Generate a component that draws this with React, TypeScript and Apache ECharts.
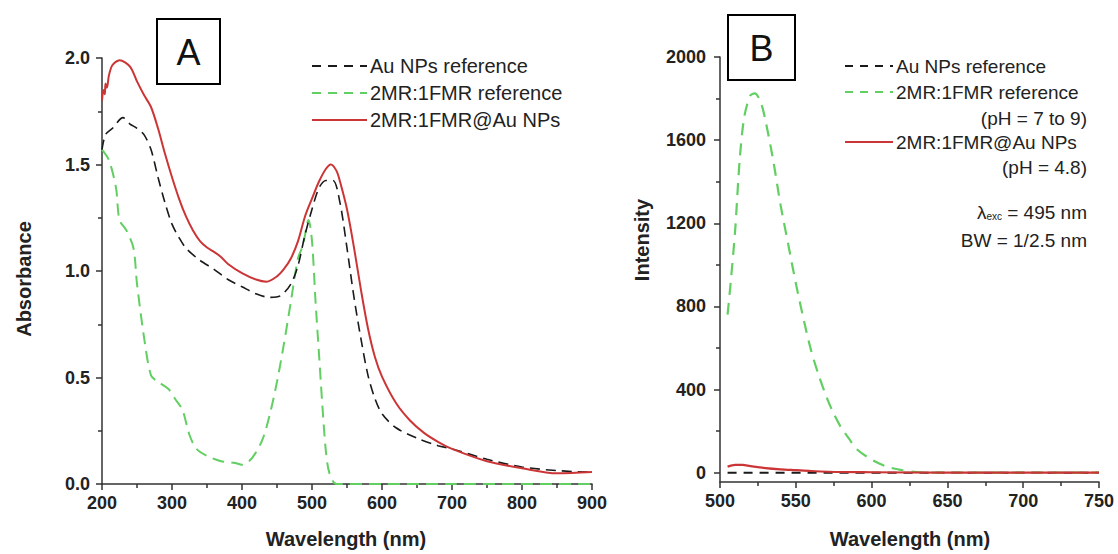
import React, { useEffect, useRef } from "react";
import * as echarts from "echarts";

// ---------- Panel A: absorbance ----------
const auNm = [200, 205, 215, 230, 240, 250, 260, 270, 280, 290, 300, 310, 320, 340, 360, 380, 400, 420, 440, 455, 470, 480, 490, 500, 510, 520, 530, 540, 550, 560, 570, 580, 590, 600, 620, 650, 680, 700, 750, 800, 850, 900];
const auAbs = [1.57, 1.64, 1.67, 1.72, 1.69, 1.67, 1.64, 1.57, 1.44, 1.32, 1.22, 1.157, 1.107, 1.05, 1.008, 0.96, 0.926, 0.893, 0.876, 0.884, 0.94, 1.025, 1.17, 1.29, 1.39, 1.425, 1.425, 1.32, 1.107, 0.876, 0.68, 0.51, 0.4, 0.33, 0.264, 0.215, 0.18, 0.165, 0.116, 0.08, 0.063, 0.055];

const fmrNm = [200, 210, 220, 225, 235, 245, 250, 260, 270, 280, 295, 305, 315, 325, 335, 350, 370, 390, 400, 410, 420, 430, 440, 450, 460, 470, 480, 487, 495, 500, 505, 510, 515, 520, 525, 535, 600, 700, 800, 900];
const fmrAbs = [1.57, 1.52, 1.39, 1.24, 1.19, 1.107, 0.94, 0.69, 0.51, 0.48, 0.446, 0.397, 0.347, 0.23, 0.165, 0.132, 0.107, 0.099, 0.09, 0.107, 0.149, 0.215, 0.33, 0.48, 0.66, 0.86, 1.06, 1.12, 1.24, 1.14, 0.86, 0.61, 0.36, 0.149, 0.05, 0.0, 0.0, 0.0, 0.0, 0.0];

const hybNm = [200, 202, 204, 205, 207, 210, 215, 225, 240, 250, 260, 270, 280, 290, 300, 310, 320, 330, 340, 350, 360, 370, 380, 400, 420, 435, 450, 460, 470, 480, 490, 500, 510, 520, 527, 535, 540, 550, 560, 570, 580, 590, 600, 620, 640, 660, 680, 700, 750, 800, 850, 900];
const hybAbs = [1.8, 1.85, 1.83, 1.88, 1.86, 1.92, 1.967, 1.99, 1.96, 1.89, 1.826, 1.77, 1.67, 1.55, 1.44, 1.34, 1.256, 1.19, 1.14, 1.11, 1.09, 1.066, 1.033, 0.99, 0.96, 0.95, 0.975, 1.01, 1.06, 1.14, 1.256, 1.34, 1.42, 1.48, 1.5, 1.47, 1.42, 1.29, 1.11, 0.91, 0.73, 0.595, 0.504, 0.38, 0.298, 0.24, 0.198, 0.165, 0.107, 0.074, 0.05, 0.056];

// ---------- Panel B: emission intensity ----------
const bAuNm = [505, 550, 600, 650, 700, 750];
const bAuInt = [0, 0, 0, 0, 0, 0];

const bFmrNm = [505, 507, 510, 513, 516, 520, 523, 527, 530, 535, 540, 545, 550, 555, 560, 565, 570, 575, 580, 585, 590, 600, 610, 620, 630, 640, 700, 750];
const bFmrInt = [760, 912, 1167, 1507, 1711, 1815, 1825, 1779, 1694, 1507, 1286, 1099, 912, 743, 590, 471, 369, 284, 216, 165, 114, 63, 29, 12, 3, 0, 0, 0];

const bHybNm = [505, 510, 515, 520, 530, 540, 550, 560, 580, 600, 650, 700, 750];
const bHybInt = [29, 37, 37, 31, 22, 16, 12, 8, 3, 2, 0, 0, 0];

const aXTicks = { min: 200, max: 900, interval: 100 };
const aYTicks = { min: 0, max: 2, interval: 0.5 };
const bXTicks = { min: 500, max: 750, interval: 50 };
const bYMajor = [0, 400, 800, 1200, 1600, 2000];
const bYMinor = [200, 600, 1000, 1400, 1800];
const bYMin = -45;

const pairs = (xs: number[], ys: number[]) => xs.map((x, i) => [x, ys[i]]);

const FONT = "'Liberation Sans', Arial, Helvetica, sans-serif";
const RED = "#cc3535";
const GREEN = "#62cf62";
const BLACK = "#1a1a1a";
const AXIS = "#333";

export default function App() {
  const ref = useRef<HTMLDivElement>(null);
  useEffect(() => {
    if (!ref.current) return;
    const chart = echarts.init(ref.current, undefined, { renderer: "svg" });
    const axisLine = { show: true, onZero: false, lineStyle: { color: AXIS, width: 1.5 } };
    const tick = { show: true, length: 6, lineStyle: { color: AXIS, width: 1.5 } };
    const minor = { show: true, splitNumber: 2, length: 4, lineStyle: { color: AXIS, width: 1.5 } };
    const label = { fontSize: 18, fontWeight: "bold", color: "#222", fontFamily: FONT };
    const legendText = (x: number, y: number, text: string, size: number, align = "left") => ({
      type: "text",
      x,
      y,
      style: { text, fontSize: size, fontFamily: FONT, fill: "#222", textAlign: align, textVerticalAlign: "middle" },
    });
    const legendLine = (x1: number, x2: number, y: number, color: string, dash: number[] | null, w: number) => ({
      type: "line",
      shape: { x1, y1: y, x2, y2: y },
      style: { stroke: color, lineWidth: w, lineDash: dash || undefined },
    });
    chart.setOption({
      animation: false,
      grid: [
        { left: 102, top: 58, width: 490, height: 426 },
        { left: 720, top: 57, width: 379, height: 425 },
      ],
      xAxis: [
        {
          gridIndex: 0, type: "value", ...aXTicks,
          axisLine, axisTick: tick, minorTick: minor, splitLine: { show: false },
          axisLabel: { ...label, margin: 10 },
        },
        {
          gridIndex: 1, type: "value", ...bXTicks,
          axisLine, axisTick: tick, minorTick: minor, splitLine: { show: false },
          axisLabel: { ...label, margin: 10 },
        },
      ],
      yAxis: [
        {
          gridIndex: 0, type: "value", ...aYTicks,
          axisLine, axisTick: tick, minorTick: minor, splitLine: { show: false },
          axisLabel: { ...label, margin: 12, formatter: (v: number) => v.toFixed(1) },
        },
        {
          gridIndex: 1, type: "value", min: bYMin, max: 2000, position: "left",
          axisLine, axisTick: { ...tick, customValues: bYMajor }, splitLine: { show: false },
          axisLabel: { ...label, margin: 14, customValues: bYMajor, formatter: (v: number) => String(Math.round(v)) },
        },
        {
          gridIndex: 1, type: "value", min: bYMin, max: 2000, position: "left", offset: 0,
          axisLine: { show: false }, axisTick: { show: true, length: 4, lineStyle: { color: AXIS, width: 1.5 }, customValues: bYMinor },
          axisLabel: { show: false }, splitLine: { show: false },
        },
      ],
      series: [
        {
          type: "line", xAxisIndex: 0, yAxisIndex: 0, data: pairs(auNm, auAbs), showSymbol: false, smooth: 0.3,
          lineStyle: { color: BLACK, width: 1.6, type: [10, 6] }, z: 3,
        },
        {
          type: "line", xAxisIndex: 0, yAxisIndex: 0, data: pairs(fmrNm, fmrAbs), showSymbol: false, smooth: 0.3,
          lineStyle: { color: GREEN, width: 2, type: [12, 7] }, z: 2,
        },
        {
          type: "line", xAxisIndex: 0, yAxisIndex: 0, data: pairs(hybNm, hybAbs), showSymbol: false, smooth: 0.3,
          lineStyle: { color: RED, width: 2 }, z: 4,
        },
        {
          type: "line", xAxisIndex: 1, yAxisIndex: 1, data: pairs(bAuNm, bAuInt), showSymbol: false,
          lineStyle: { color: BLACK, width: 2, type: [9, 7] }, z: 2,
        },
        {
          type: "line", xAxisIndex: 1, yAxisIndex: 1, data: pairs(bFmrNm, bFmrInt), showSymbol: false, smooth: 0.3,
          lineStyle: { color: GREEN, width: 2.2, type: [12, 8] }, z: 3,
        },
        {
          type: "line", xAxisIndex: 1, yAxisIndex: 1, data: pairs(bHybNm, bHybInt), showSymbol: false, smooth: 0.3,
          lineStyle: { color: RED, width: 2.2 }, z: 4,
        },
      ],
      graphic: [
        // panel labels
        { type: "rect", shape: { x: 157, y: 19, width: 63, height: 65 }, style: { fill: "#fff", stroke: "#000", lineWidth: 2 } },
        { type: "text", x: 188.5, y: 52, style: { text: "A", fontSize: 36, fontFamily: FONT, fill: "#111", textAlign: "center", textVerticalAlign: "middle" } },
        { type: "rect", shape: { x: 728, y: 15, width: 67, height: 65 }, style: { fill: "#fff", stroke: "#000", lineWidth: 2 } },
        { type: "text", x: 761.5, y: 48, style: { text: "B", fontSize: 36, fontFamily: FONT, fill: "#111", textAlign: "center", textVerticalAlign: "middle" } },
        // axis titles
        { type: "text", x: 346, y: 539, style: { text: "Wavelength (nm)", fontSize: 20, fontWeight: "bold", fontFamily: FONT, fill: "#222", textAlign: "center", textVerticalAlign: "middle" } },
        { type: "text", x: 910, y: 539, style: { text: "Wavelength (nm)", fontSize: 20, fontWeight: "bold", fontFamily: FONT, fill: "#222", textAlign: "center", textVerticalAlign: "middle" } },
        { type: "text", x: 24, y: 279, rotation: Math.PI / 2, style: { text: "Absorbance", fontSize: 20, fontWeight: "bold", fontFamily: FONT, fill: "#222", textAlign: "center", textVerticalAlign: "middle" } },
        { type: "text", x: 642, y: 240, rotation: Math.PI / 2, style: { text: "Intensity", fontSize: 20, fontWeight: "bold", fontFamily: FONT, fill: "#222", textAlign: "center", textVerticalAlign: "middle" } },
        // legend A
        legendLine(312, 367, 66, BLACK, [9, 7], 2),
        legendText(370, 66, "Au NPs reference", 20),
        legendLine(312, 367, 93, GREEN, [9, 7], 2),
        legendText(370, 93, "2MR:1FMR reference", 20),
        legendLine(312, 367, 120, RED, null, 2),
        legendText(370, 120, "2MR:1FMR@Au NPs", 20),
        // legend B
        legendLine(845, 893, 66, BLACK, [8, 7], 2),
        legendText(896, 66, "Au NPs reference", 19),
        legendLine(845, 893, 92, GREEN, [8, 7], 2),
        legendText(896, 92, "2MR:1FMR reference", 19),
        legendText(1087, 118, "(pH = 7 to 9)", 19, "right"),
        legendLine(845, 893, 142, RED, null, 2),
        legendText(896, 142, "2MR:1FMR@Au NPs", 19),
        legendText(1087, 167, "(pH = 4.8)", 19, "right"),
        {
          type: "text", x: 1087, y: 212,
          style: {
            text: "{l|λ}{s|exc}{n| = 495 nm}",
            textAlign: "right", textVerticalAlign: "middle", fill: "#222", fontFamily: FONT,
            rich: {
              l: { fontSize: 19, fontFamily: FONT, fill: "#222", verticalAlign: "bottom" },
              s: { fontSize: 10, fontFamily: FONT, fill: "#222", verticalAlign: "bottom" },
              n: { fontSize: 19, fontFamily: FONT, fill: "#222", verticalAlign: "bottom" },
            },
          },
        },
        legendText(1087, 240, "BW = 1/2.5 nm", 19, "right"),
      ],
    });
    return () => chart.dispose();
  }, []);
  return <div ref={ref} style={{ position: "fixed", left: 0, top: 0, width: 1118, height: 554, background: "#fff" }} />;
}
